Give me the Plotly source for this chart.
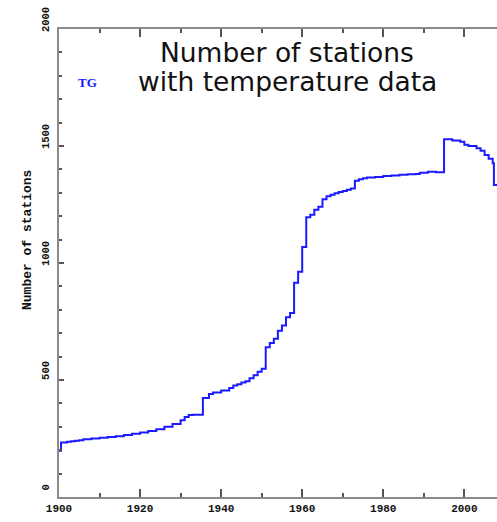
import plotly.graph_objects as go

# Step breakpoints (year, number of stations)
years = [1900, 1900.5, 1902, 1903, 1904, 1905, 1906, 1908, 1910, 1912, 1914, 1916,
         1918, 1920, 1922, 1924, 1926, 1928, 1930, 1931, 1932, 1933, 1935.5, 1937,
         1938, 1940, 1942, 1943, 1944, 1945, 1946, 1947, 1948, 1949, 1950, 1951,
         1952, 1953, 1954, 1955, 1956, 1957, 1958, 1959, 1960, 1961, 1962, 1963,
         1964, 1965, 1966, 1967, 1968, 1969, 1970, 1971, 1972, 1973, 1974, 1975,
         1976, 1978, 1980, 1982, 1984, 1986, 1988, 1989, 1991, 1993, 1995, 1997,
         1999, 2000, 2001, 2003, 2004, 2005, 2006, 2007, 2007.3, 2009]
stations = [198, 233, 236, 238, 240, 243, 247, 250, 253, 256, 260, 265,
            270, 276, 282, 290, 300, 312, 328, 342, 350, 352, 423, 440,
            447, 455, 466, 476, 482, 489, 495, 508, 520, 535, 548, 640,
            658, 676, 710, 733, 768, 786, 916, 963, 1068, 1196, 1206, 1228,
            1240, 1272, 1285, 1292, 1298, 1303, 1308, 1313, 1318, 1352, 1358, 1362,
            1365, 1368, 1372, 1374, 1377, 1379, 1380, 1386, 1390, 1388, 1529, 1524,
            1518, 1505, 1500, 1490, 1480, 1462, 1445, 1426, 1333, 1333]

x_ticks = [1900, 1920, 1940, 1960, 1980, 2000]
x_tick_labels = ["1900", "1920", "1940", "1960", "1980", "2000"]
y_ticks = [0, 500, 1000, 1500, 2000]
y_tick_labels = ["0", "500", "1000", "1500", "2000"]

title_line1 = "Number of stations"
title_line2 = "with temperature data"
y_title = "Number of stations"
series_name = "TG"

AXIS = "#8a8a8a"
BLUE = "#1a1aff"

fig = go.Figure()
fig.add_trace(go.Scatter(x=years, y=stations, mode="lines", line_shape="hv",
                         line=dict(color=BLUE, width=2), name=series_name,
                         hoverinfo="x+y"))

fig.update_layout(
    width=497, height=522,
    margin=dict(l=59, r=0, t=29, b=25),
    paper_bgcolor="white", plot_bgcolor="white",
    showlegend=False,
    xaxis=dict(range=[1900, 2008.06], tickvals=x_ticks, ticktext=x_tick_labels,
               ticks="inside", ticklen=8, tickwidth=1.5, tickcolor="#555",
               showline=True, linecolor=AXIS, linewidth=2, mirror="ticks",
               showgrid=False, zeroline=False,
               tickfont=dict(family="Liberation Mono", size=11, color="#111", weight="bold"),
               minor=dict(dtick=10, tick0=1900, ticks="inside", ticklen=4, tickcolor="#555",
                          showgrid=False)),
    yaxis=dict(range=[0, 2000], tickvals=y_ticks, ticktext=y_tick_labels,
               ticks="inside", ticklen=5, tickwidth=1.5, tickcolor="#555",
               showline=True, linecolor=AXIS, linewidth=2, mirror=False,
               showgrid=False, zeroline=False, tickangle=-90, ticklabelshift=-8,
               ticklabelstandoff=4,
               tickfont=dict(family="Liberation Mono", size=10.5, color="#111", weight="bold"),
               minor=dict(dtick=100, tick0=0, ticks="inside", ticklen=3, tickcolor="#555",
                          showgrid=False)),
    annotations=[
        dict(text=title_line1, x=287, y=522 - 52, showarrow=False,
             font=dict(family="DejaVu Sans", size=26.5, color="#111")),
        dict(text=title_line2, x=287, y=522 - 81, showarrow=False,
             font=dict(family="DejaVu Sans", size=26.5, color="#111")),
        dict(text=series_name, x=87, y=522 - 82, showarrow=False,
             font=dict(family="Liberation Serif", size=13, color=BLUE, weight="bold")),
        dict(text=y_title, x=28, y=522 - 240, showarrow=False, textangle=-90,
             font=dict(family="Liberation Mono", size=13, color="#111", weight="bold")),
    ],
)

# Convert pixel placements of annotations to paper coordinates
W, H = 497, 522
for a in fig.layout.annotations:
    a.xref = "paper"
    a.yref = "paper"
    a.x = (a.x - 59) / (W - 59)
    a.y = (a.y - 25) / (H - 29 - 25)
    a.xanchor = "center"
    a.yanchor = "middle"

fig.write_html("out.html", config={"displayModeBar": False},
               post_script="document.body.style.margin='0';document.body.style.overflow='hidden';")
